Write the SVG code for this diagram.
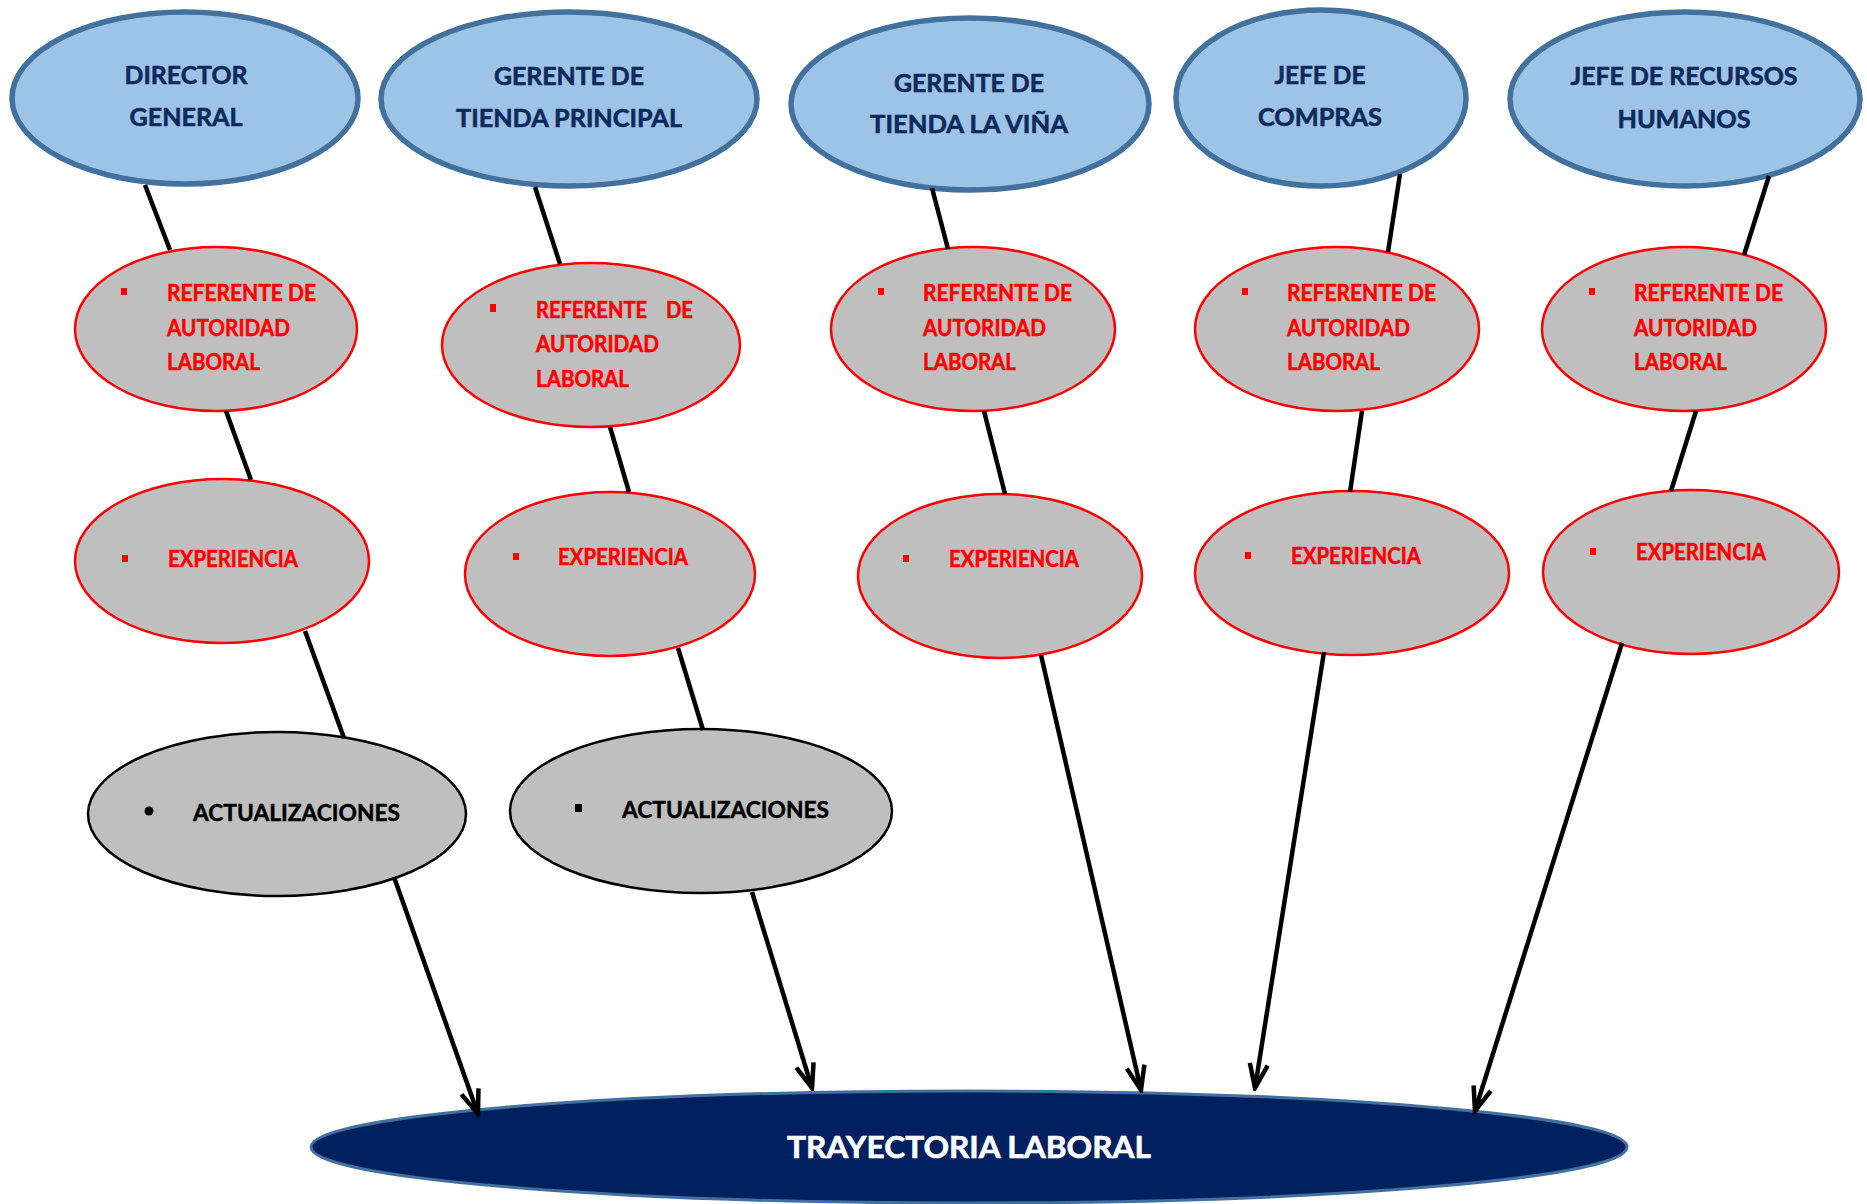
<svg xmlns="http://www.w3.org/2000/svg" width="1867" height="1204" viewBox="0 0 1867 1204">
  <defs>
    <style>
      .role { fill: #9DC3E6; stroke: #41719C; stroke-width: 5.5; }
      .role-txt { font-family: Lato, "Liberation Sans", sans-serif; font-weight: bold; font-size: 25px; fill: #0E2A5C; stroke: #0E2A5C; stroke-width: 0.6; text-anchor: middle; }
      .trait { fill: #BFBFBF; stroke: #FF0000; stroke-width: 2.5; }
      .trait-txt { font-family: Lato, "Liberation Sans", sans-serif; font-weight: bold; font-size: 22px; fill: #FF0000; stroke: #FF0000; stroke-width: 0.5; }
      .upd { fill: #BFBFBF; stroke: #000000; stroke-width: 2.5; }
      .upd-txt { font-family: Lato, "Liberation Sans", sans-serif; font-weight: bold; font-size: 22.5px; fill: #000000; stroke: #000000; stroke-width: 0.5; }
      .goal { fill: #002060; stroke: #41719C; stroke-width: 3; }
      .goal-txt { font-family: Lato, "Liberation Sans", sans-serif; font-weight: bold; font-size: 30px; fill: #FFFFFF; stroke: #FFFFFF; stroke-width: 0.6; text-anchor: middle; }
      .red-bullet { fill: #FF0000; }
      .link { stroke: #000000; stroke-width: 4.5; fill: none; }
      .arrow { stroke: #000000; stroke-width: 4.5; fill: none; marker-end: url(#open-arrow); }
    </style>
    <marker id="open-arrow" viewBox="0 0 30 24" refX="27" refY="12" markerWidth="30" markerHeight="24" markerUnits="userSpaceOnUse" orient="auto">
      <path d="M3,3 L27,12 L3,21" fill="none" stroke="#000000" stroke-width="4.5" stroke-linejoin="miter"/>
    </marker>
  </defs>

  <rect x="0" y="0" width="1867" height="1204" fill="#FFFFFF"/>

  <!-- Top row: positions -->
  <g id="director-general">
    <ellipse class="role" cx="185" cy="98" rx="173" ry="86"/>
    <text class="role-txt" x="186" y="84" textLength="123" lengthAdjust="spacingAndGlyphs">DIRECTOR</text>
    <text class="role-txt" x="186" y="126" textLength="113" lengthAdjust="spacingAndGlyphs">GENERAL</text>
  </g>
  <g id="gerente-tienda-principal">
    <ellipse class="role" cx="569" cy="99" rx="188" ry="87"/>
    <text class="role-txt" x="569" y="85" textLength="150" lengthAdjust="spacingAndGlyphs">GERENTE DE</text>
    <text class="role-txt" x="569" y="127" textLength="226" lengthAdjust="spacingAndGlyphs">TIENDA PRINCIPAL</text>
  </g>
  <g id="gerente-tienda-la-vina">
    <ellipse class="role" cx="970" cy="104" rx="179" ry="86"/>
    <text class="role-txt" x="969" y="92" textLength="150" lengthAdjust="spacingAndGlyphs">GERENTE DE</text>
    <text class="role-txt" x="969" y="133" textLength="198" lengthAdjust="spacingAndGlyphs">TIENDA LA VIÑA</text>
  </g>
  <g id="jefe-de-compras">
    <ellipse class="role" cx="1321" cy="98" rx="145" ry="88"/>
    <text class="role-txt" x="1320" y="84" textLength="91" lengthAdjust="spacingAndGlyphs">JEFE DE</text>
    <text class="role-txt" x="1320" y="126" textLength="124" lengthAdjust="spacingAndGlyphs">COMPRAS</text>
  </g>
  <g id="jefe-recursos-humanos">
    <ellipse class="role" cx="1685" cy="99" rx="175" ry="87"/>
    <text class="role-txt" x="1684" y="85" textLength="227" lengthAdjust="spacingAndGlyphs">JEFE DE RECURSOS</text>
    <text class="role-txt" x="1684" y="128" textLength="133" lengthAdjust="spacingAndGlyphs">HUMANOS</text>
  </g>

  <!-- Second row: labour authority reference -->
  <g id="referente-1">
    <ellipse class="trait" cx="216" cy="329" rx="141" ry="82"/>
    <rect class="red-bullet" x="121" y="288" width="6" height="7"/>
    <text class="trait-txt" x="167" y="301" textLength="149" lengthAdjust="spacingAndGlyphs">REFERENTE DE</text>
    <text class="trait-txt" x="167" y="336" textLength="123" lengthAdjust="spacingAndGlyphs">AUTORIDAD</text>
    <text class="trait-txt" x="167" y="370" textLength="93" lengthAdjust="spacingAndGlyphs">LABORAL</text>
  </g>
  <g id="referente-2">
    <ellipse class="trait" cx="591" cy="345" rx="149" ry="82"/>
    <rect class="red-bullet" x="490" y="304" width="6" height="8"/>
    <text class="trait-txt" y="318"><tspan x="536" textLength="111" lengthAdjust="spacingAndGlyphs">REFERENTE</tspan> <tspan x="666" textLength="27" lengthAdjust="spacingAndGlyphs">DE</tspan></text>
    <text class="trait-txt" x="536" y="352" textLength="123" lengthAdjust="spacingAndGlyphs">AUTORIDAD</text>
    <text class="trait-txt" x="536" y="387" textLength="93" lengthAdjust="spacingAndGlyphs">LABORAL</text>
  </g>
  <g id="referente-3">
    <ellipse class="trait" cx="973" cy="329" rx="142" ry="82"/>
    <rect class="red-bullet" x="878" y="288" width="6" height="7"/>
    <text class="trait-txt" x="923" y="301" textLength="149" lengthAdjust="spacingAndGlyphs">REFERENTE DE</text>
    <text class="trait-txt" x="923" y="336" textLength="123" lengthAdjust="spacingAndGlyphs">AUTORIDAD</text>
    <text class="trait-txt" x="923" y="370" textLength="93" lengthAdjust="spacingAndGlyphs">LABORAL</text>
  </g>
  <g id="referente-4">
    <ellipse class="trait" cx="1337" cy="329" rx="142" ry="82"/>
    <rect class="red-bullet" x="1242" y="288" width="6" height="7"/>
    <text class="trait-txt" x="1287" y="301" textLength="149" lengthAdjust="spacingAndGlyphs">REFERENTE DE</text>
    <text class="trait-txt" x="1287" y="336" textLength="123" lengthAdjust="spacingAndGlyphs">AUTORIDAD</text>
    <text class="trait-txt" x="1287" y="370" textLength="93" lengthAdjust="spacingAndGlyphs">LABORAL</text>
  </g>
  <g id="referente-5">
    <ellipse class="trait" cx="1684" cy="329" rx="142" ry="82"/>
    <rect class="red-bullet" x="1589" y="288" width="6" height="7"/>
    <text class="trait-txt" x="1634" y="301" textLength="149" lengthAdjust="spacingAndGlyphs">REFERENTE DE</text>
    <text class="trait-txt" x="1634" y="336" textLength="123" lengthAdjust="spacingAndGlyphs">AUTORIDAD</text>
    <text class="trait-txt" x="1634" y="370" textLength="93" lengthAdjust="spacingAndGlyphs">LABORAL</text>
  </g>

  <!-- Third row: experience -->
  <g id="experiencia-1">
    <ellipse class="trait" cx="222" cy="561" rx="147" ry="82"/>
    <rect class="red-bullet" x="122" y="555" width="6" height="7"/>
    <text class="trait-txt" x="168" y="567" textLength="130" lengthAdjust="spacingAndGlyphs">EXPERIENCIA</text>
  </g>
  <g id="experiencia-2">
    <ellipse class="trait" cx="610" cy="574" rx="145" ry="82"/>
    <rect class="red-bullet" x="513" y="553" width="6" height="7"/>
    <text class="trait-txt" x="558" y="565" textLength="130" lengthAdjust="spacingAndGlyphs">EXPERIENCIA</text>
  </g>
  <g id="experiencia-3">
    <ellipse class="trait" cx="1000" cy="576" rx="142" ry="82"/>
    <rect class="red-bullet" x="903" y="555" width="6" height="7"/>
    <text class="trait-txt" x="949" y="567" textLength="130" lengthAdjust="spacingAndGlyphs">EXPERIENCIA</text>
  </g>
  <g id="experiencia-4">
    <ellipse class="trait" cx="1352" cy="573" rx="157" ry="82"/>
    <rect class="red-bullet" x="1245" y="552" width="6" height="7"/>
    <text class="trait-txt" x="1291" y="564" textLength="130" lengthAdjust="spacingAndGlyphs">EXPERIENCIA</text>
  </g>
  <g id="experiencia-5">
    <ellipse class="trait" cx="1691" cy="572" rx="148" ry="82"/>
    <rect class="red-bullet" x="1590" y="548" width="6" height="7"/>
    <text class="trait-txt" x="1636" y="560" textLength="130" lengthAdjust="spacingAndGlyphs">EXPERIENCIA</text>
  </g>

  <!-- Fourth row: updates -->
  <g id="actualizaciones-1">
    <ellipse class="upd" cx="277" cy="814" rx="189" ry="82"/>
    <circle cx="149" cy="811" r="4.5" fill="#000000"/>
    <text class="upd-txt" x="193" y="821" textLength="207" lengthAdjust="spacingAndGlyphs">ACTUALIZACIONES</text>
  </g>
  <g id="actualizaciones-2">
    <ellipse class="upd" cx="701" cy="811" rx="191" ry="82"/>
    <rect x="575" y="804" width="7" height="8" fill="#000000"/>
    <text class="upd-txt" x="622" y="818" textLength="207" lengthAdjust="spacingAndGlyphs">ACTUALIZACIONES</text>
  </g>

  <!-- Bottom: common outcome -->
  <g id="trayectoria-laboral">
    <ellipse class="goal" cx="969" cy="1147" rx="658" ry="56"/>
    <text class="goal-txt" x="969" y="1158" textLength="364" lengthAdjust="spacingAndGlyphs">TRAYECTORIA LABORAL</text>
  </g>

  <!-- Connectors -->
  <g id="connectors">
    <line class="link" x1="145" y1="185" x2="170" y2="250"/>
    <line class="link" x1="226" y1="411" x2="251" y2="480"/>
    <line class="link" x1="305" y1="631" x2="344" y2="738"/>
    <line class="arrow" x1="394" y1="877" x2="478" y2="1114"/>

    <line class="link" x1="535" y1="187" x2="560" y2="264"/>
    <line class="link" x1="610" y1="427" x2="629" y2="492"/>
    <line class="link" x1="678" y1="648" x2="703" y2="730"/>
    <line class="arrow" x1="752" y1="892" x2="812" y2="1088"/>

    <line class="link" x1="932" y1="188" x2="948" y2="249"/>
    <line class="link" x1="984" y1="411" x2="1005" y2="494"/>
    <line class="arrow" x1="1041" y1="655" x2="1141" y2="1090"/>

    <line class="link" x1="1400" y1="174" x2="1388" y2="252"/>
    <line class="link" x1="1362" y1="411" x2="1350" y2="492"/>
    <line class="arrow" x1="1324" y1="652" x2="1255" y2="1088"/>

    <line class="link" x1="1769" y1="176" x2="1744" y2="255"/>
    <line class="link" x1="1696" y1="411" x2="1671" y2="491"/>
    <line class="arrow" x1="1622" y1="643" x2="1475" y2="1111"/>
  </g>
</svg>
